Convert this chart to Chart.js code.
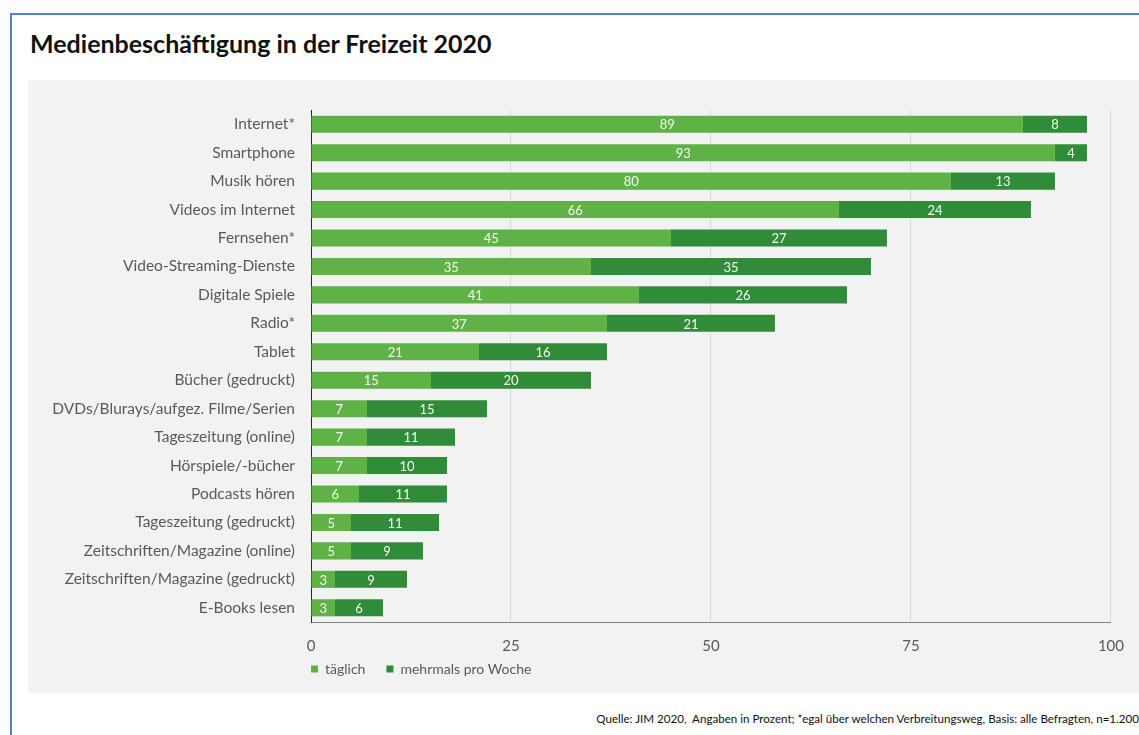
<!DOCTYPE html>
<html>
<head>
<meta charset="utf-8">
<script src="https://cdn.jsdelivr.net/npm/chart.js@4"></script>
<style>
  body { margin: 0; background: #fff; font-family: Lato, sans-serif; }
  #frame { position: absolute; left: 10px; top: 13px; width: 1200px; height: 800px; border: 2px solid #5a7fc0; box-sizing: border-box; }
  #title { position: absolute; left: 30px; top: 28px; font-size: 25px; font-weight: bold; color: #111; }
  #panel { position: absolute; left: 28px; top: 80px; width: 1111px; height: 613px; background: #f2f2f2; }
  #mediaChart { position: absolute; left: 0; top: 0; }
  #source { position: absolute; right: 0; top: 712px; font-size: 11.6px; color: #111; white-space: nowrap; }
</style>
</head>
<body>
<div id="frame"></div>
<div id="title">Medienbeschäftigung in der Freizeit 2020</div>
<div id="panel"><canvas id="mediaChart" width="1111" height="620"></canvas></div>
<div id="source">Quelle: JIM 2020,&nbsp; Angaben in Prozent; *egal über welchen Verbreitungsweg, Basis: alle Befragten, n=1.200</div>
<script>
const categories = [
  "Internet*", "Smartphone", "Musik hören", "Videos im Internet", "Fernsehen*",
  "Video-Streaming-Dienste", "Digitale Spiele", "Radio*", "Tablet", "Bücher (gedruckt)",
  "DVDs/Blurays/aufgez. Filme/Serien", "Tageszeitung (online)", "Hörspiele/-bücher",
  "Podcasts hören", "Tageszeitung (gedruckt)", "Zeitschriften/Magazine (online)",
  "Zeitschriften/Magazine (gedruckt)", "E-Books lesen"
];
const daily = [89, 93, 80, 66, 45, 35, 41, 37, 21, 15, 7, 7, 7, 6, 5, 5, 3, 3];
const weekly = [8, 4, 13, 24, 27, 35, 26, 21, 16, 20, 15, 11, 10, 11, 11, 9, 9, 6];
const xTicks = [0, 25, 50, 75, 100];

// white numbers in the middle of each bar segment
const barLabels = {
  id: "barLabels",
  afterDatasetsDraw(chart) {
    const ctx = chart.ctx;
    ctx.save();
    ctx.font = "13px Lato";
    ctx.fillStyle = "#f4fbef";
    ctx.textAlign = "center";
    ctx.textBaseline = "middle";
    chart.data.datasets.forEach((ds, i) => {
      chart.getDatasetMeta(i).data.forEach((bar, j) => {
        ctx.fillText(ds.data[j], (bar.x + bar.base) / 2, bar.y + 1);
      });
    });
    ctx.restore();
  }
};

// legend sits right under the axis labels, lined up with the plot
const legendPos = {
  id: "legendPos",
  beforeDraw(chart) {
    chart.legend.left = chart.chartArea.left - 21;
    chart.legend.top = chart.chartArea.bottom + 19;
  }
};

new Chart(document.getElementById("mediaChart").getContext("2d"), {
  type: "bar",
  data: {
    labels: categories,
    datasets: [
      { label: "täglich", data: daily, backgroundColor: "#5fb246", barPercentage: 0.6, categoryPercentage: 1 },
      { label: "mehrmals pro Woche", data: weekly, backgroundColor: "#308c39", barPercentage: 0.6, categoryPercentage: 1 }
    ]
  },
  options: {
    indexAxis: "y",
    responsive: false,
    animation: false,
    layout: { padding: { top: 30, right: 28, bottom: 0, left: 0 } },
    scales: {
      x: {
        stacked: true,
        min: 0,
        max: 100,
        afterBuildTicks: scale => { scale.ticks = xTicks.map(v => ({ value: v })); },
        afterFit: scale => { scale.height = 33; },
        grid: { color: "#d9d9d9", drawTicks: false },
        border: { color: "#7f7f7f" },
        ticks: { color: "#595959", font: { family: "Lato", size: 15 }, padding: 15 }
      },
      y: {
        stacked: true,
        afterFit: scale => { scale.width = 283; },
        grid: { display: false, drawTicks: false },
        border: { color: "#262626" },
        ticks: { color: "#595959", font: { family: "Lato", size: 15.5 }, padding: 16 }
      }
    },
    plugins: {
      legend: {
        position: "bottom",
        align: "start",
        labels: { boxWidth: 7, boxHeight: 7, padding: 21, color: "#595959", font: { family: "Lato", size: 14 } }
      },
      tooltip: { enabled: false }
    }
  },
  plugins: [barLabels, legendPos]
});
</script>
</body>
</html>
